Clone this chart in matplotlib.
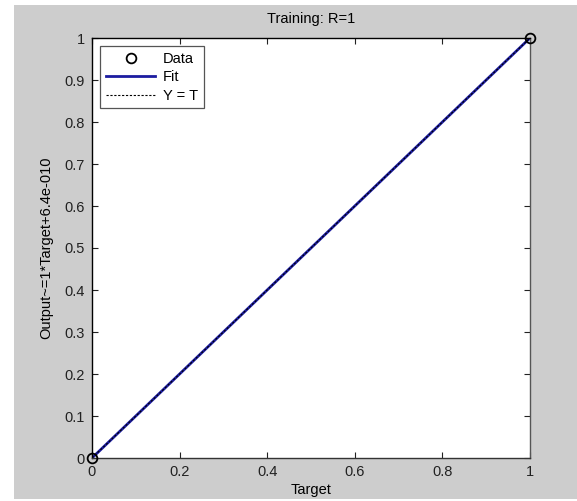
import numpy as np
import matplotlib
matplotlib.use("Agg")
import matplotlib.pyplot as plt
from matplotlib.patches import Rectangle

plt.rcParams['font.family'] = ['Liberation Sans', 'DejaVu Sans']

# data
target = [0.0, 1.0]
output = [0.0, 1.0]
fit_slope = 1.0
fit_offset = 6.4e-10
xticks = [0, 0.2, 0.4, 0.6, 0.8, 1]
yticks = [0, 0.1, 0.2, 0.3, 0.4, 0.5, 0.6, 0.7, 0.8, 0.9, 1]

fig = plt.figure(figsize=(5.77, 5.01), dpi=100, facecolor='white')
# grey window background
fig.patches.append(Rectangle((14 / 577, 2 / 501), 1 - 14 / 577, 1 - 7 / 501,
                             transform=fig.transFigure, facecolor='#cdcdcd',
                             edgecolor='none', zorder=-1))

ax = fig.add_axes([92 / 577, 1 - 458 / 501, (530 - 92) / 577, (458 - 38) / 501])
ax.set_facecolor('white')

xs = np.array([0.0, 1.0])
ax.plot(target, output, linestyle='none', marker='o', markersize=7,
        markerfacecolor='none', markeredgecolor='black', markeredgewidth=1.3,
        label='Data', zorder=5, clip_on=False)
ax.plot(xs, fit_slope * xs + fit_offset, color='#1c1ca0', linewidth=2, label='Fit')
ax.plot(xs, xs, color='black', linestyle=(0, (2, 1.5)), linewidth=0.8, label='Y = T')

ax.set_xlim(0, 1)
ax.set_ylim(0, 1)
ax.set_xticks(xticks)
ax.set_xticklabels(['0', '0.2', '0.4', '0.6', '0.8', '1'])
ax.set_yticks(yticks)
ax.set_yticklabels(['0', '0.1', '0.2', '0.3', '0.4', '0.5', '0.6', '0.7', '0.8', '0.9', '1'])
ax.tick_params(direction='in', length=4, width=0.8, top=True, right=True,
               labelsize=10.5, pad=5, colors='#222222')
for s in ax.spines.values():
    s.set_linewidth(1.0)
ax.spines['right'].set_color('#555555')
ax.spines['bottom'].set_color('#333333')

ax.set_title('Training: R=1', fontsize=10.5, pad=11)
ax.set_xlabel('Target', fontsize=10.5, labelpad=3)
ax.set_ylabel('Output~=1*Target+6.4e-010', fontsize=10.5, labelpad=8)

leg = ax.legend(loc='upper left', fontsize=10.5, fancybox=False, framealpha=1,
                edgecolor='#555555', borderaxespad=0.55, handlelength=3.4,
                handletextpad=0.5, labelspacing=0.3, borderpad=0.4)
leg.get_frame().set_linewidth(0.9)

fig.savefig('out.png', dpi=100, facecolor=fig.get_facecolor())
